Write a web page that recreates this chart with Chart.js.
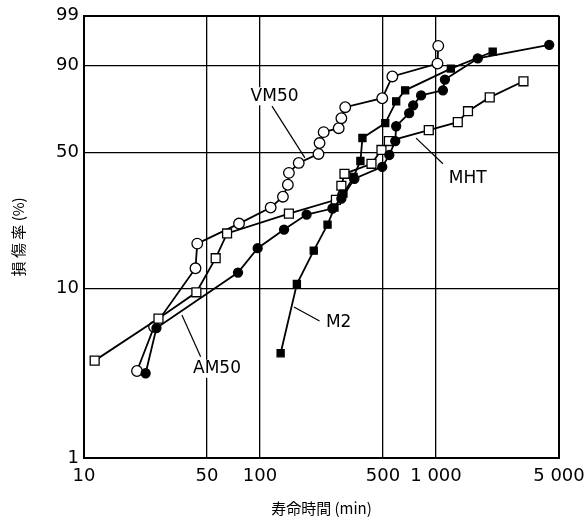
<!DOCTYPE html>
<html lang="ja">
<head>
  <meta charset="UTF-8" />
  <title>寿命時間と損傷率</title>
  <script src="https://cdn.jsdelivr.net/npm/chart.js"></script>
  <style>
    html, body { margin: 0; padding: 0; background: #fff; }
    #caixa { width: 588px; height: 521px; }
  </style>
</head>
<body>
  <div id="caixa"><canvas id="grafico"></canvas></div>

  <script>
    // 寿命時間 (min) / 損傷率 (%)
    const vm50Min = [20, 25, 43, 44, 76, 115, 135, 144, 146, 166, 215, 218, 230, 280, 290, 305, 495, 565, 1020, 1030];
    const vm50Pct = [3.3, 6.0, 13.0, 17.8, 22.8, 27.6, 31.3, 35.8, 40.7, 45.1, 49.3, 54.6, 60.1, 62.1, 67.2, 72.7, 77.0, 86.3, 90.7, 95.2];

    const am50Min = [22.4, 25.8, 75, 97, 137, 184, 258, 290, 344, 495, 543, 587, 594, 704, 742, 823, 1095, 1124, 1727, 4400];
    const am50Pct = [3.2, 5.9, 12.3, 16.8, 21.2, 25.4, 27.3, 30.6, 38.2, 43.3, 48.8, 55.6, 63.1, 69.7, 73.6, 78.3, 80.6, 85.1, 92.2, 95.4];

    const mhtMin = [11.5, 26.5, 43.5, 56, 65, 146, 270, 290, 302, 430, 490, 540, 910, 1330, 1520, 2020, 3140];
    const mhtPct = [3.8, 6.7, 9.5, 14.8, 20.2, 25.7, 30.2, 35.4, 40.3, 44.7, 51.2, 55.6, 61.1, 65.2, 70.7, 77.4, 84.4];

    const m2Min = [131, 162, 202, 242, 265, 298, 340, 372, 382, 515, 594, 668, 1215, 2100];
    const m2Pct = [4.2, 10.6, 16.3, 22.5, 27.6, 32.4, 39.0, 46.0, 57.1, 64.7, 75.5, 80.6, 89.1, 93.9];

    const xTicks = [10, 50, 100, 500, 1000, 5000];
    const xTickLabels = ['10', '50', '100', '500', '1 000', '5 000'];
    const yTicks = [1, 10, 50, 90, 99];

    // ラベルと引出し線 (データ座標: min, %)
    const rotulos = [
      { texto: 'VM50', x: 121, p: 77.9, de: [117, 73.2], ate: [180, 47.4] },
      { texto: 'MHT',  x: 1516, p: 38.2, de: [1095, 44.7], ate: [771, 57.1] },
      { texto: 'M2',   x: 280, p: 6.32, de: [218, 6.49], ate: [156, 7.82] },
      { texto: 'AM50', x: 57, p: 3.40, de: [46, 4.0], ate: [36, 7.03] }
    ];

    // ワイブル確率紙: ln(-ln(1-F))
    function weibull(p) { return Math.log(-Math.log(1 - p / 100)); }
    function pontos(xs, ps) { return xs.map((x, i) => ({ x: x, y: weibull(ps[i]) })); }

    const fonteNum = "'DejaVu Sans', sans-serif";
    const fonteJp = "'Noto Sans CJK JP', sans-serif";

    const pluginRotulos = {
      id: 'rotulos',
      afterDatasetsDraw(chart) {
        const ctx = chart.ctx, sx = chart.scales.x, sy = chart.scales.y;
        ctx.save();
        ctx.font = '17px ' + fonteNum;
        ctx.textAlign = 'center';
        ctx.textBaseline = 'middle';
        rotulos.forEach(r => {
          ctx.strokeStyle = '#000';
          ctx.lineWidth = 1.2;
          ctx.beginPath();
          ctx.moveTo(sx.getPixelForValue(r.de[0]), sy.getPixelForValue(weibull(r.de[1])));
          ctx.lineTo(sx.getPixelForValue(r.ate[0]), sy.getPixelForValue(weibull(r.ate[1])));
          ctx.stroke();
          const tx = sx.getPixelForValue(r.x), ty = sy.getPixelForValue(weibull(r.p));
          const w = ctx.measureText(r.texto).width;
          ctx.fillStyle = '#fff';
          ctx.fillRect(tx - w / 2 - 3, ty - 9, w + 6, 18);
          ctx.fillStyle = '#000';
          ctx.fillText(r.texto, tx, ty);
        });
        ctx.restore();
      }
    };

    function serie(nome, xs, ps, estilo, fundo, raio) {
      return {
        label: nome,
        data: pontos(xs, ps),
        borderColor: '#000',
        borderWidth: 1.8,
        pointStyle: estilo,
        pointBackgroundColor: fundo,
        pointBorderColor: '#000',
        pointBorderWidth: 1.3,
        pointRadius: raio,
        tension: 0
      };
    }

    const larguraGrade = (ctx, borda) => {
      if (!ctx.tick) return 1.3;
      return borda.includes(ctx.tick.value) ? 2 : 1.3;
    };

    new Chart(document.getElementById('grafico'), {
      type: 'line',
      data: {
        datasets: [
          serie('M2', m2Min, m2Pct, 'rect', '#000', 5),
          serie('AM50', am50Min, am50Pct, 'circle', '#000', 4.5),
          serie('MHT', mhtMin, mhtPct, 'rect', '#fff', 6.3),
          serie('VM50', vm50Min, vm50Pct, 'circle', '#fff', 5.3)
        ]
      },
      options: {
        responsive: true,
        maintainAspectRatio: false,
        animation: false,
        layout: { padding: { left: 0, right: 29, top: 14, bottom: 0 } },
        plugins: { legend: { display: false }, tooltip: { enabled: false } },
        scales: {
          x: {
            type: 'logarithmic',
            min: 10,
            max: 5000,
            afterBuildTicks: s => { s.ticks = xTicks.map(v => ({ value: v })); },
            afterFit: s => { s.height = 63; s.paddingLeft = 0; s.paddingRight = 0; },
            ticks: {
              autoSkip: false,
              maxRotation: 0,
              padding: 8,
              color: '#000',
              font: { family: fonteNum, size: 18 },
              callback: (v, i) => xTickLabels[i]
            },
            grid: {
              color: '#000',
              drawTicks: false,
              lineWidth: ctx => larguraGrade(ctx, [10, 5000])
            },
            border: { display: true, color: '#000', width: 2 },
            title: {
              display: true,
              text: '寿命時間 (min)',
              color: '#000',
              font: { family: fonteJp, size: 15 },
              padding: { top: 0, bottom: 4 }
            }
          },
          y: {
            type: 'linear',
            min: weibull(1),
            max: weibull(99),
            afterBuildTicks: s => { s.ticks = yTicks.map(p => ({ value: weibull(p) })); },
            afterFit: s => { s.width = 84; },
            ticks: {
              autoSkip: false,
              padding: 5,
              color: '#000',
              font: { family: fonteNum, size: 18 },
              callback: (v, i) => String(yTicks[i])
            },
            grid: {
              color: '#000',
              drawTicks: false,
              lineWidth: ctx => larguraGrade(ctx, [weibull(1), weibull(99)])
            },
            border: { display: true, color: '#000', width: 2 },
            title: {
              display: true,
              text: '損 傷 率 (%)',
              color: '#000',
              font: { family: fonteJp, size: 15 },
              padding: { top: 9, bottom: 0 }
            }
          }
        }
      },
      plugins: [pluginRotulos]
    });
  </script>
</body>
</html>
